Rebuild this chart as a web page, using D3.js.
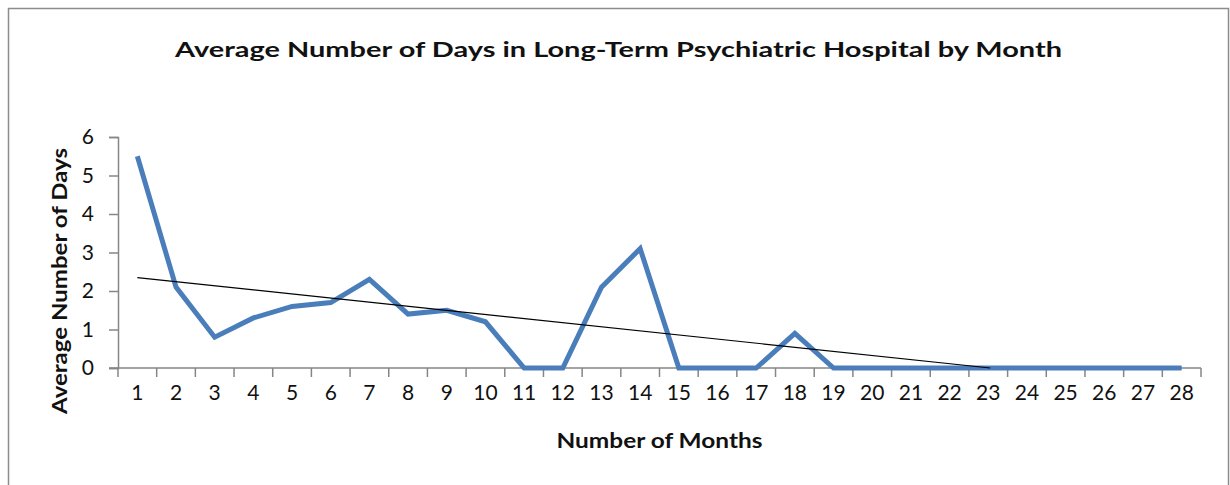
<!DOCTYPE html>
<html>
<head>
<meta charset="utf-8">
<script src="https://cdn.jsdelivr.net/npm/d3@7"></script>
<style>
  body { margin: 0; background: #fff; }
  svg { display: block; }
  text { font-family: Lato, "Open Sans", sans-serif; fill: #111; }
</style>
</head>
<body>
<svg id="root"></svg>
<script>
// chart data
const months = d3.range(1, 29);
const avgDays = [5.5, 2.1, 0.8, 1.3, 1.6, 1.7, 2.3, 1.4, 1.5, 1.2, 0, 0, 2.1, 3.1,
  0, 0, 0, 0.9, 0, 0, 0, 0, 0, 0, 0, 0, 0, 0];
const yTicks = [0, 1, 2, 3, 4, 5, 6];

const width = 1230;
const height = 485;
const svg = d3.select('#root').attr('width', width).attr('height', height);

// outer frame (runs past the bottom of the picture)
svg.append('rect')
  .attr('x', 8.5).attr('y', 8.5)
  .attr('width', 1220).attr('height', 500)
  .attr('fill', '#fff')
  .attr('stroke', '#8c8c8c')
  .attr('stroke-width', 1.5);

const margin = { left: 118, right: 1201, top: 137, bottom: 368 };

const x = d3.scaleBand().domain(months).range([margin.left, margin.right]);
const y = d3.scaleLinear().domain([0, 6]).range([margin.bottom, margin.top]);

const axisColor = '#868686';

// y axis
const yAxis = svg.append('g')
  .attr('transform', `translate(${margin.left},0)`)
  .call(d3.axisLeft(y).tickValues(yTicks).tickFormat(d3.format('d')).tickSize(9).tickPadding(15));
yAxis.select('.domain').attr('stroke', axisColor).attr('stroke-width', 1.5);
yAxis.selectAll('.tick line').attr('stroke', axisColor).attr('stroke-width', 1.5);
yAxis.selectAll('.tick text')
  .attr('font-size', 21)
  .attr('fill', '#111')
  .style('font-family', 'Lato, sans-serif');

// x axis: ticks at category edges, labels at centres
const xAxisG = svg.append('g').attr('transform', `translate(0,${margin.bottom})`);
xAxisG.append('line')
  .attr('x1', margin.left - 9).attr('x2', margin.right)
  .attr('stroke', axisColor).attr('stroke-width', 1.5);
const edges = months.map(m => x(m)).concat([x(months[months.length - 1]) + x.bandwidth()]);
xAxisG.selectAll('.xtick')
  .data(edges)
  .enter()
  .append('line')
  .attr('class', 'xtick')
  .attr('x1', d => d).attr('x2', d => d)
  .attr('y1', 0).attr('y2', 9)
  .attr('stroke', axisColor).attr('stroke-width', 1.5);
xAxisG.selectAll('.xlabel')
  .data(months)
  .enter()
  .append('text')
  .attr('class', 'xlabel')
  .attr('x', d => x(d) + x.bandwidth() / 2)
  .attr('y', 32)
  .attr('text-anchor', 'middle')
  .attr('font-size', 21)
  .text(d => d);

// data line
const line = d3.line()
  .x((d, i) => x(months[i]) + x.bandwidth() / 2)
  .y(d => y(d));

svg.append('path')
  .datum(avgDays)
  .attr('fill', 'none')
  .attr('stroke', '#4a7ebb')
  .attr('stroke-width', 5)
  .attr('stroke-linejoin', 'miter')
  .attr('d', line);

// linear trendline (least squares), clipped at the axis minimum
const n = months.length;
const mx = d3.mean(months);
const my = d3.mean(avgDays);
const slope = d3.sum(months, (m, i) => (m - mx) * (avgDays[i] - my)) /
  d3.sum(months, m => (m - mx) * (m - mx));
const intercept = my - slope * mx;
const xZero = -intercept / slope;
const xPos = m => x(1) + x.bandwidth() / 2 + (m - 1) * x.step();
const endM = Math.min(months[n - 1], xZero);

svg.append('line')
  .attr('x1', xPos(1)).attr('y1', y(intercept + slope * 1))
  .attr('x2', xPos(endM)).attr('y2', y(Math.max(0, intercept + slope * endM)))
  .attr('stroke', '#000')
  .attr('stroke-width', 1.2);

// titles
svg.append('text')
  .attr('x', 618.5).attr('y', 57)
  .attr('text-anchor', 'middle')
  .attr('font-size', 21)
  .attr('font-weight', 'bold')
  .attr('textLength', 887)
  .attr('lengthAdjust', 'spacingAndGlyphs')
  .text('Average Number of Days in Long-Term Psychiatric Hospital by Month');

svg.append('text')
  .attr('x', (margin.left + margin.right) / 2).attr('y', 448)
  .attr('text-anchor', 'middle')
  .attr('font-size', 20)
  .attr('font-weight', 'bold')
  .attr('textLength', 206)
  .attr('lengthAdjust', 'spacingAndGlyphs')
  .text('Number of Months');

svg.append('text')
  .attr('transform', 'translate(67,281) rotate(-90)')
  .attr('text-anchor', 'middle')
  .attr('font-size', 20)
  .attr('font-weight', 'bold')
  .attr('textLength', 266)
  .attr('lengthAdjust', 'spacingAndGlyphs')
  .text('Average Number of Days');
</script>
</body>
</html>
